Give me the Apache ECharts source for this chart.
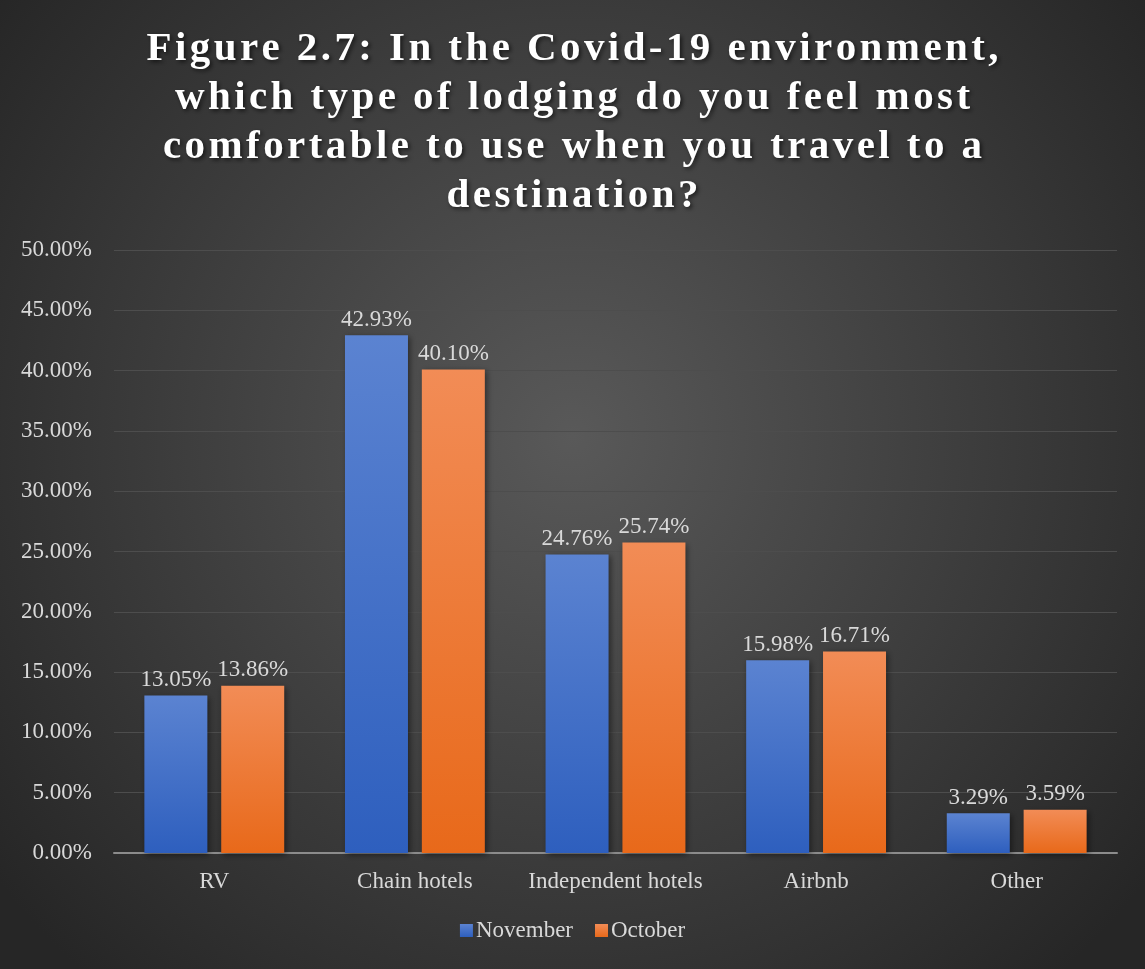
<!DOCTYPE html>
<html>
<head>
<meta charset="utf-8">
<script src="https://cdn.jsdelivr.net/npm/echarts@6/dist/echarts.min.js"></script>
<style>
  html, body { margin: 0; padding: 0; background: #262626; }
  #chart { width: 1145px; height: 969px; }
</style>
</head>
<body>
<div id="chart"></div>
<script>
// 数据
const categories = ['RV', 'Chain hotels', 'Independent hotels', 'Airbnb', 'Other'];
const november = [13.05, 42.93, 24.76, 15.98, 3.29];
const october = [13.86, 40.10, 25.74, 16.71, 3.59];
const titleLines = [
  'Figure 2.7: In the Covid-19 environment,',
  'which type of lodging do you feel most',
  'comfortable to use when you travel to a',
  'destination?',
];

const SERIF = '"Liberation Serif", "DejaVu Serif", serif';
const TEXT = '#d9d9d9';

// ECharts 没有 letterSpacing，用细空格撑开标题字距
const spaced = (s) => s.split('').join('\u200A');

const grad = (top, bottom) => new echarts.graphic.LinearGradient(0, 0, 0, 1, [
  { offset: 0, color: top },
  { offset: 1, color: bottom },
]);

const label = {
  show: true,
  position: 'top',
  distance: 4,
  color: TEXT,
  fontFamily: SERIF,
  fontSize: 23,
  formatter: (p) => p.value.toFixed(2) + '%',
};

const chart = echarts.init(document.getElementById('chart'), null, { renderer: 'canvas' });
chart.setOption({
  backgroundColor: new echarts.graphic.RadialGradient(0.5, 0.45, 0.75, [
    { offset: 0, color: '#595959' },
    { offset: 1, color: '#262626' },
  ]),
  title: {
    text: titleLines.map(spaced).join('\n'),
    left: 'center',
    top: 20,
    textStyle: {
      color: '#ffffff',
      fontFamily: SERIF,
      fontWeight: 'bold',
      fontSize: 41,
      lineHeight: 49,
      textShadowColor: 'rgba(0,0,0,0.6)',
      textShadowBlur: 4,
      textShadowOffsetX: 2,
      textShadowOffsetY: 2,
    },
  },
  legend: {
    bottom: 22,
    left: 'center',
    itemWidth: 13,
    itemHeight: 13,
    itemGap: 22,
    icon: 'rect',
    textStyle: { color: TEXT, fontFamily: SERIF, fontSize: 23, padding: [0, 0, 0, -2] },
    data: ['November', 'October'],
  },
  grid: { left: 114, right: 28, top: 250, bottom: 116, containLabel: false },
  xAxis: {
    type: 'category',
    data: categories,
    axisTick: { show: false },
    axisLine: { lineStyle: { color: '#8c8c8c', width: 2 } },
    axisLabel: {
      interval: 0,
      hideOverlap: false,
      color: TEXT,
      fontFamily: SERIF,
      fontSize: 23,
      margin: 17,
    },
  },
  yAxis: {
    type: 'value',
    min: 0,
    max: 50,
    interval: 5,
    axisLine: { show: false },
    axisTick: { show: false },
    axisLabel: {
      color: TEXT,
      fontFamily: SERIF,
      fontSize: 23,
      margin: 22,
      formatter: (v) => v.toFixed(2) + '%',
    },
    splitLine: { lineStyle: { color: '#4d4d4d', width: 1 } },
  },
  series: [
    {
      name: 'November',
      type: 'bar',
      data: november,
      barWidth: 63,
      barGap: '22%',
      itemStyle: {
        color: grad('#5b83d1', '#2e5fbe'),
        shadowColor: 'rgba(0,0,0,0.45)',
        shadowBlur: 6,
        shadowOffsetX: 2,
        shadowOffsetY: 2,
      },
      label,
    },
    {
      name: 'October',
      type: 'bar',
      data: october,
      barWidth: 63,
      itemStyle: {
        color: grad('#f28c56', '#e8691a'),
        shadowColor: 'rgba(0,0,0,0.45)',
        shadowBlur: 6,
        shadowOffsetX: 2,
        shadowOffsetY: 2,
      },
      label,
    },
  ],
});
</script>
</body>
</html>
